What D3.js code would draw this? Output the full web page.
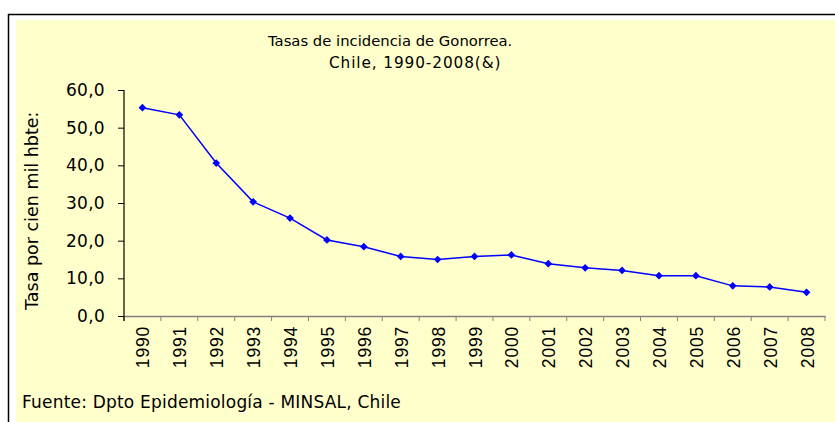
<!DOCTYPE html>
<html><head><meta charset="utf-8">
<script src="https://cdn.jsdelivr.net/npm/d3@7"></script>
<style>
html,body{margin:0;padding:0;background:#fff;}
svg{display:block;font-family:"DejaVu Sans",Verdana,sans-serif;}
</style></head>
<body><svg id="c" width="835" height="422"></svg>
<script>
const years = ["1990","1991","1992","1993","1994","1995","1996","1997","1998","1999","2000","2001","2002","2003","2004","2005","2006","2007","2008"];
const rates = [55.3,53.4,40.6,30.3,26.0,20.2,18.4,15.8,15.0,15.8,16.2,13.9,12.8,12.1,10.7,10.7,8.0,7.7,6.3];
const yTicks = [0,10,20,30,40,50,60];
const titleLines = ["Tasas de incidencia de Gonorrea.","Chile, 1990-2008(&)"];
const yTitle = "Tasa por cien mil hbte:";
const sourceNote = "Fuente: Dpto Epidemiología - MINSAL, Chile";

const svg = d3.select("#c");
// frame
svg.append("rect").attr("x",16).attr("y",20).attr("width",819).attr("height",402).attr("fill","#FFFFCC");
svg.append("line").attr("x1",8).attr("x2",835).attr("y1",14.5).attr("y2",14.5).attr("stroke","#000").attr("stroke-width",1.5);
svg.append("line").attr("x1",8.5).attr("x2",8.5).attr("y1",14).attr("y2",422).attr("stroke","#000").attr("stroke-width",1.5);

const x = d3.scaleBand().domain(years).range([124,825]);
const y = d3.scaleLinear().domain([0,60]).range([316,90]);

// x axis
const xg = svg.append("g").attr("transform","translate(0,316)")
  .call(d3.axisBottom(x).tickSize(0).tickFormat(""));
xg.select(".domain").attr("stroke","#808080").attr("stroke-width",1.5);
const bounds = years.map(d=>x(d)).concat([x.range()[1]]);
xg.selectAll("line.bt").data(bounds).join("line").attr("class","bt")
  .attr("x1",d=>d).attr("x2",d=>d).attr("y1",0).attr("y2",5).attr("stroke","#808080").attr("stroke-width",1);
xg.selectAll("text.yr").data(years).join("text").attr("class","yr")
  .attr("transform",d=>`translate(${x(d)+x.bandwidth()/2+7},10) rotate(-90)`)
  .attr("text-anchor","end").attr("font-size",17.5).attr("letter-spacing",0.8).attr("fill","#000").text(d=>d);

// y axis
const yg = svg.append("g").attr("transform","translate(124,0)")
  .call(d3.axisLeft(y).tickValues(yTicks).tickSize(6).tickFormat(d=>d3.format(".1f")(d).replace(".",",")));
yg.select(".domain").attr("d","M0,90V321").attr("stroke","#000").attr("stroke-width",1.2);
yg.selectAll(".tick line").attr("stroke","#000");
yg.selectAll(".tick text").attr("font-size",17).attr("letter-spacing",0.3).attr("font-family","DejaVu Sans").attr("x",-19).attr("fill","#000");

// line
const line = d3.line().x((d,i)=>x(years[i])+x.bandwidth()/2).y(d=>y(d));
svg.append("path").datum(rates).attr("d",line).attr("fill","none").attr("stroke","#0000FF").attr("stroke-width",1.5);
svg.selectAll("path.mk").data(rates).join("path").attr("class","mk")
  .attr("d",d3.symbol(d3.symbolSquare,30))
  .attr("transform",(d,i)=>`translate(${x(years[i])+x.bandwidth()/2},${y(d)}) rotate(45)`)
  .attr("fill","#0000FF");

// titles
svg.append("text").attr("x",268).attr("y",46).attr("font-size",14.8).text(titleLines[0]);
svg.append("text").attr("x",329).attr("y",68).attr("font-size",15.3).attr("letter-spacing",0.9).text(titleLines[1]);
svg.append("text").attr("transform","translate(38,310) rotate(-90)").attr("font-size",17.5).text(yTitle);
svg.append("text").attr("x",22).attr("y",408).attr("font-size",17).attr("letter-spacing",0.2).text(sourceNote);
</script></body></html>
